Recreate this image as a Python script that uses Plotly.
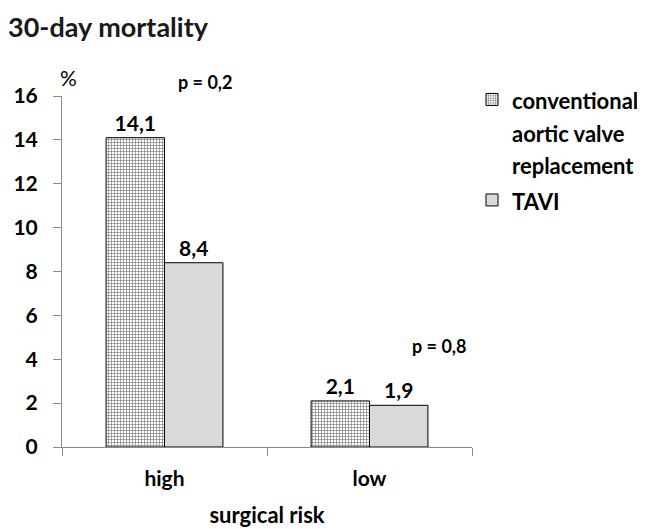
import plotly.graph_objects as go

categories = ["high", "low"]
cavr_values = [14.1, 2.1]
tavi_values = [8.4, 1.9]
y_ticks = [0, 2, 4, 6, 8, 10, 12, 14, 16]
p_labels = ["p = 0,2", "p = 0,8"]
legend_names = [["conventional", "aortic valve", "replacement"], ["TAVI"]]

FONT = "Lato"
BOLD = dict(family=FONT, size=21, color="black", weight="bold")


def legend_label(lines):
    return "<br>".join('<span style="font-size:22px">%s</span>' % s for s in lines)


fig = go.Figure()
fig.add_trace(go.Bar(
    x=categories, y=cavr_values,
    name=legend_label(legend_names[0]),
    marker=dict(color="white", line=dict(color="black", width=1),
                pattern=dict(shape="+", fgcolor="black", bgcolor="white", size=3, solidity=0.4)),
    texttemplate="<b>%{y:.1f}</b>", textposition="outside", cliponaxis=False,
    textfont=BOLD,
))
fig.add_trace(go.Bar(
    x=categories, y=tavi_values, name=legend_label(legend_names[1]),
    marker=dict(color="#d9d9d9", line=dict(color="black", width=1)),
    texttemplate="<b>%{y:.1f}</b>", textposition="outside", cliponaxis=False,
    textfont=BOLD,
))

W, H = 637, 521
fig.update_layout(
    width=W, height=H,
    separators=",.",
    paper_bgcolor="white", plot_bgcolor="white",
    margin=dict(l=54, r=173, t=88, b=82, autoexpand=False),
    barmode="group", bargap=0.43, bargroupgap=0,
    font=dict(family=FONT, color="black"),
    title=dict(text="30-day mortality", x=0.0, xanchor="left", y=0.962, yanchor="middle",
               pad=dict(l=0), font=dict(family=FONT, size=27, color="#1a1a1a", weight="bold")),
    showlegend=True,
    legend=dict(x=1.0, y=1.055, xanchor="left", yanchor="top", valign="top",
                font=dict(family=FONT, size=25, color="black", weight="bold"), tracegroupgap=0,
                itemwidth=30),
    hovermode=False,
)
fig.update_yaxes(range=[0, 16], tickvals=y_ticks, showline=True, linecolor="#8a8a8a", linewidth=1,
                 ticks="outside", ticklen=8, tickcolor="#8a8a8a", showgrid=False, zeroline=False,
                 automargin=False, ticklabelstandoff=11,
                 tickfont=dict(family=FONT, size=21, color="black", weight="bold"))
fig.update_xaxes(showline=True, linecolor="#8a8a8a", linewidth=1, ticks="outside", ticklen=8,
                 tickcolor="#8a8a8a", tickson="boundaries", showgrid=False, automargin=False,
                 ticklabelstandoff=13,
                 tickfont=dict(family=FONT, size=21, color="black", weight="bold"),
                 title=dict(text="surgical risk", font=dict(family=FONT, size=22, color="black", weight="bold"),
                            standoff=18))

fig.add_annotation(xref="paper", yref="paper", x=-0.01, y=1.054, text="%", showarrow=False,
                   font=dict(family=FONT, size=21, color="black"), xanchor="left", yanchor="middle")
fig.add_annotation(xref="paper", yref="paper", x=0.349, y=1.040, text=p_labels[0],
                   xanchor="center", yanchor="middle",
                   showarrow=False, font=dict(family=FONT, size=18, color="black", weight="bold"))
fig.add_annotation(xref="paper", yref="paper", x=0.920, y=0.288, text=p_labels[1],
                   xanchor="center", yanchor="middle",
                   showarrow=False, font=dict(family=FONT, size=18, color="black", weight="bold"))

fig.write_html("out.html")
